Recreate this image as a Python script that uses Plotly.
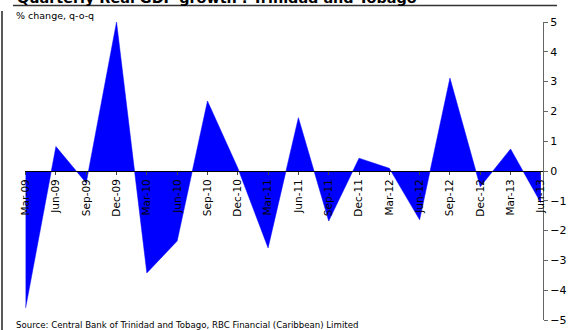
import plotly.graph_objects as go

quarters = ["Mar-09", "Jun-09", "Sep-09", "Dec-09", "Mar-10", "Jun-10", "Sep-10", "Dec-10",
            "Mar-11", "Jun-11", "Sep-11", "Dec-11", "Mar-12", "Jun-12", "Sep-12", "Dec-12",
            "Mar-13", "Jun-13"]
growth = [-4.6, 0.82, -0.4, 5.0, -3.42, -2.35, 2.35, 0.1,
          -2.58, 1.79, -1.68, 0.43, 0.09, -1.64, 3.12, -0.53,
          0.74, -1.07]
y_ticks = [-5, -4, -3, -2, -1, 0, 1, 2, 3, 4, 5]

W, H = 569, 330
L, R, T, B = 25, 26, 22, 10
pw, ph = W - L - R, H - T - B

def px(x):
    return (x - L) / pw

def py(y):
    return (H - B - y) / ph

font = "DejaVu Sans"

fig = go.Figure()
fig.add_trace(go.Scatter(
    x=quarters, y=growth, mode="lines", fill="tozeroy",
    fillcolor="#0000FF", line=dict(color="#0000FF", width=0.5),
    hoverinfo="x+y", showlegend=False,
))

fig.update_layout(
    width=W, height=H,
    margin=dict(l=L, r=R, t=T, b=B, autoexpand=False),
    paper_bgcolor="white", plot_bgcolor="white",
    font=dict(family=font, size=10, color="black"),
    xaxis=dict(
        type="category", range=[-0.02, 17.07],
        anchor="free", position=0.5, automargin=False,
        showline=True, linecolor="black", linewidth=1,
        ticks="outside", ticklen=3, tickcolor="#444",
        tickangle=-90, tickfont=dict(family=font, size=10.5, color="black"),
        ticklabeloverflow="allow",
        showgrid=False, zeroline=False,
    ),
    yaxis=dict(
        range=[-5, 5], tickvals=y_ticks, side="right", automargin=False,
        showline=True, linecolor="#666", linewidth=1,
        ticks="outside", ticklen=4, tickcolor="#666",
        tickfont=dict(family=font, size=11, color="black"),
        showgrid=False, zeroline=False,
    ),
)

# title underline and left border
fig.add_shape(type="line", xref="paper", yref="paper",
              x0=px(13), x1=px(557), y0=py(5.5), y1=py(5.5),
              line=dict(color="#333", width=1.5))
fig.add_shape(type="line", xref="paper", yref="paper",
              x0=px(2), x1=px(2), y0=py(11), y1=py(331),
              line=dict(color="#222", width=1.5))

fig.add_annotation(text="<b>Quarterly Real GDP growth : Trinidad and Tobago</b>",
                   xref="paper", yref="paper", x=px(15), y=py(8),
                   xanchor="left", yanchor="bottom", showarrow=False,
                   font=dict(family=font, size=14.4, color="black"))
fig.add_annotation(text="% change, q-o-q",
                   xref="paper", yref="paper", x=px(14), y=py(15),
                   xanchor="left", yanchor="middle", showarrow=False,
                   font=dict(family=font, size=9.5, color="black"))
fig.add_annotation(text="Source: Central Bank of Trinidad and Tobago, RBC Financial (Caribbean) Limited",
                   xref="paper", yref="paper", x=px(14), y=py(325),
                   xanchor="left", yanchor="middle", showarrow=False,
                   font=dict(family=font, size=8.6, color="black"))

fig.write_html("out.html")
